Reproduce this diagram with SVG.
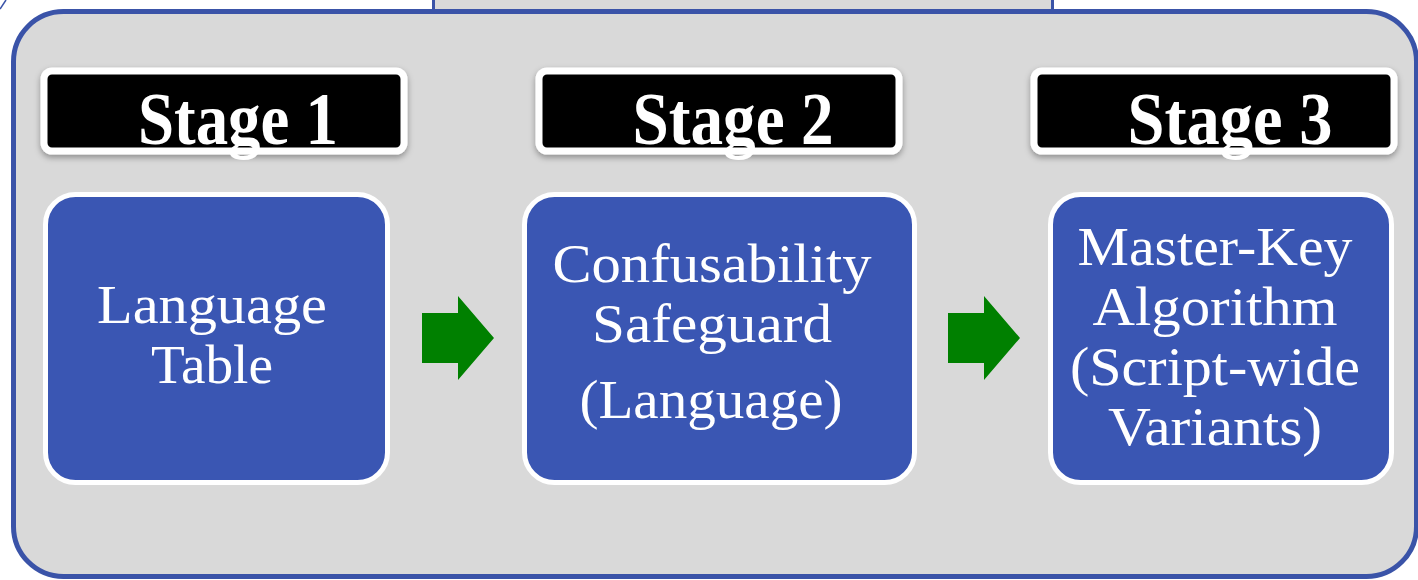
<svg xmlns="http://www.w3.org/2000/svg" width="1418" height="580" viewBox="0 0 1418 580">
<style>
.hdr{fill:#000;stroke:#fff;stroke-width:7}
.hdrtxt{font-family:"Liberation Serif","Times New Roman",serif;font-weight:bold;font-size:74px;fill:#fff;text-anchor:middle}
.box{fill:#3a56b3;stroke:#fff;stroke-width:5}
.boxtxt{font-family:"Liberation Serif","Times New Roman",serif;font-size:55px;fill:#fff;text-anchor:middle}
.arrow{fill:#008000}
</style>
<defs>
<filter id="sh" x="-10%" y="-20%" width="120%" height="150%">
<feDropShadow dx="0" dy="3" stdDeviation="3" flood-color="#000" flood-opacity="0.35"/>
</filter>
</defs>
<rect x="0" y="0" width="1418" height="580" fill="#fff"/>
<line x1="0" y1="9" x2="6" y2="0" stroke="#3a53a8" stroke-width="1.5"/>
<g id="topbox">
<rect x="433.5" y="-20" width="619" height="32" fill="#d9d9d9" stroke="#3a53a8" stroke-width="3"/>
</g>
<g id="container">
<rect x="13.5" y="11.5" width="1403" height="565" rx="50" fill="#d9d9d9" stroke="#3a53a8" stroke-width="5"/>
</g>
<g id="stage1-header">
<rect class="hdr" x="44" y="71" width="360" height="80" rx="8" filter="url(#sh)"/>
<text class="hdrtxt" x="238" y="144" textLength="200" lengthAdjust="spacingAndGlyphs">Stage 1</text>
</g>
<g id="stage2-header">
<rect class="hdr" x="539" y="71" width="360" height="80" rx="8" filter="url(#sh)"/>
<text class="hdrtxt" x="733" y="144" textLength="201" lengthAdjust="spacingAndGlyphs">Stage 2</text>
</g>
<g id="stage3-header">
<rect class="hdr" x="1034" y="71" width="360" height="80" rx="8" filter="url(#sh)"/>
<text class="hdrtxt" x="1230" y="144" textLength="205" lengthAdjust="spacingAndGlyphs">Stage 3</text>
</g>
<g id="stage1-box">
<rect class="box" x="45.5" y="194.5" width="342" height="288" rx="30"/>
<text class="boxtxt" x="212" y="323" textLength="230" lengthAdjust="spacingAndGlyphs">Language</text>
<text class="boxtxt" x="212" y="383" textLength="122" lengthAdjust="spacingAndGlyphs">Table</text>
</g>
<g id="stage2-box">
<rect class="box" x="524.5" y="194.5" width="390" height="288" rx="30"/>
<text class="boxtxt" x="712" y="282" textLength="319" lengthAdjust="spacingAndGlyphs">Confusability</text>
<text class="boxtxt" x="712" y="342" textLength="240" lengthAdjust="spacingAndGlyphs">Safeguard</text>
<text class="boxtxt" x="711" y="418" textLength="263" lengthAdjust="spacingAndGlyphs">(Language)</text>
</g>
<g id="stage3-box">
<rect class="box" x="1050.5" y="194.5" width="341" height="288" rx="30"/>
<text class="boxtxt" x="1215" y="265" textLength="275" lengthAdjust="spacingAndGlyphs">Master-Key</text>
<text class="boxtxt" x="1215" y="325" textLength="245" lengthAdjust="spacingAndGlyphs">Algorithm</text>
<text class="boxtxt" x="1215" y="385" textLength="290" lengthAdjust="spacingAndGlyphs">(Script-wide</text>
<text class="boxtxt" x="1215" y="445" textLength="214" lengthAdjust="spacingAndGlyphs">Variants)</text>
</g>
<g id="connectors">
<polygon class="arrow" points="422,313 458,313 458,296 494,338 458,380 458,363 422,363"/>
<polygon class="arrow" points="948,313 984,313 984,296 1020,338 984,380 984,363 948,363"/>
</g>
</svg>
